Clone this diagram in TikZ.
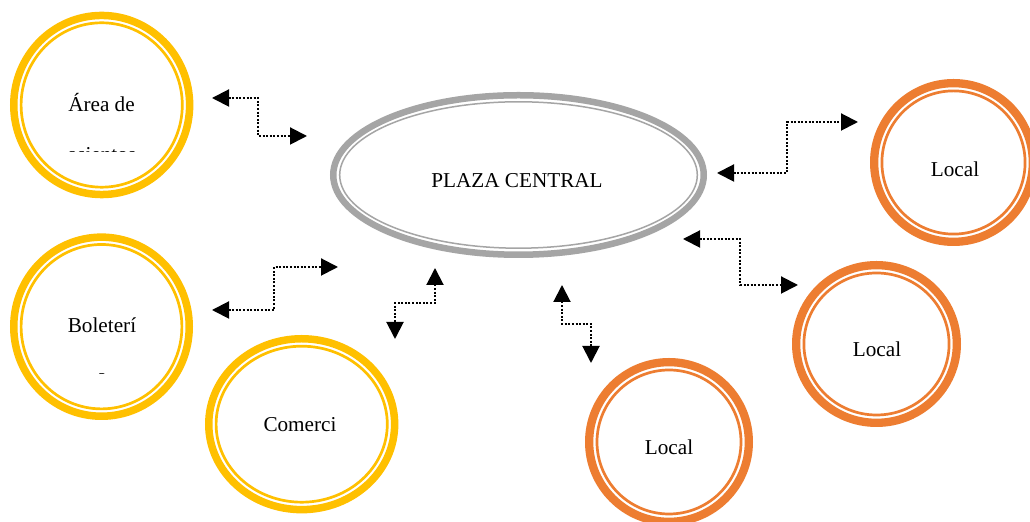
\documentclass[tikz,border=0pt]{standalone}
\usepackage{fontspec}
\setmainfont{Liberation Serif}
\usetikzlibrary{shapes.geometric,arrows.meta}
\definecolor{ringyellow}{HTML}{FFC000}
\definecolor{ringorange}{HTML}{ED7D31}
\definecolor{ringgray}{HTML}{A5A5A5}
\begin{document}
\begin{tikzpicture}[x=0.5pt,y=-0.5pt,
  txt/.style={inner sep=0pt,outer sep=0pt,anchor=base,font=\fontsize{10.6pt}{12pt}\selectfont},
  yring/.style={ellipse,draw=ringyellow,line width=3.75pt,inner sep=0pt,outer sep=0pt},
  ythin/.style={draw=ringyellow,line width=1.35pt},
  oring/.style={ellipse,draw=ringorange,line width=4.15pt,inner sep=0pt,outer sep=0pt},
  othin/.style={draw=ringorange,line width=1.35pt},
  gring/.style={ellipse,draw=ringgray,line width=3.25pt,inner sep=0pt,outer sep=0pt},
  gthin/.style={draw=ringgray,line width=0.75pt},
  conn/.style={line width=1pt,dash pattern=on 1pt off 0.8pt,
    {Triangle[length=8.5pt,width=8.5pt]}-{Triangle[length=8.5pt,width=8.5pt]}}
]
\clip (0,0) rectangle (1030,522);
\fill[white] (0,0) rectangle (1030,522);

% central plaza
\node[gring,minimum width=185.25pt,minimum height=79.75pt] (plaza) at (518.5,175) {};
\draw[gthin] (plaza.center) ellipse [x radius=89.4pt,y radius=36.6pt];
\node[txt] (plazat) at (517,188) {PLAZA CENTRAL};

% yellow circles
\node[yring,minimum width=87.95pt,minimum height=89.55pt] (asientos) at (101.7,105) {};
\draw[ythin] (asientos.center) ellipse [x radius=40.3pt,y radius=41.1pt];
\node[txt] (asientost) at (101.5,112) {Área de};
\begin{scope}
\clip (40,130) rectangle (170,152);
\node[txt] (asientost2) at (102,161.2) {asientos};
\end{scope}

\node[yring,minimum width=87.75pt,minimum height=89.55pt] (boleteria) at (101.5,326.7) {};
\draw[ythin] (boleteria.center) ellipse [x radius=40.2pt,y radius=41.1pt];
\node[txt] (boleteriat) at (102,333) {Boleterí};
\begin{scope}
\clip (80,340) rectangle (130,373.5);
\node[txt] (boleteriat2) at (102,384) {a};
\end{scope}

\node[yring,minimum width=92.95pt,minimum height=85.45pt] (comercio) at (301.7,424.2) {};
\draw[ythin] (comercio.center) ellipse [x radius=42.8pt,y radius=39pt];
\node[txt] (comerciot) at (300,432) {Comerci};

% orange circles
\node[oring,minimum width=79.35pt,minimum height=79.35pt] (local1) at (953.5,162.5) {};
\draw[othin] (local1.center) ellipse [x radius=35.8pt,y radius=35.8pt];
\node[txt] (local1t) at (955,177) {Local};

\node[oring,minimum width=80.35pt,minimum height=78.85pt] (local2) at (876.5,344) {};
\draw[othin] (local2.center) ellipse [x radius=36.3pt,y radius=35.5pt];
\node[txt] (local2t) at (877,357) {Local};

\node[oring,minimum width=79.85pt,minimum height=79.85pt] (local3) at (669,442) {};
\draw[othin] (local3.center) ellipse [x radius=36pt,y radius=36pt];
\node[txt] (local3t) at (669,455) {Local};

% connector ends
\coordinate (c1a) at (212,98);  \coordinate (c1b) at (307,136);
\coordinate (c2a) at (212,310); \coordinate (c2b) at (338,267);
\coordinate (c3a) at (435,268); \coordinate (c3b) at (395,339);
\coordinate (c4a) at (717,173); \coordinate (c4b) at (858,122);
\coordinate (c5a) at (683,239); \coordinate (c5b) at (798,285);
\coordinate (c6a) at (562,285); \coordinate (c6b) at (591,363);

\draw[conn] (c1a) -- ++(46,0) |- (c1b);
\draw[conn] (c2a) -- ++(62,0) |- (c2b);
\draw[conn] (c3a) -- ++(0,35) -| (c3b);
\draw[conn] (c4a) -- ++(70,0) |- (c4b);
\draw[conn] (c5a) -- ++(57,0) |- (c5b);
\draw[conn] (c6a) -- ++(0,39) -| (c6b);
\end{tikzpicture}
\end{document}
